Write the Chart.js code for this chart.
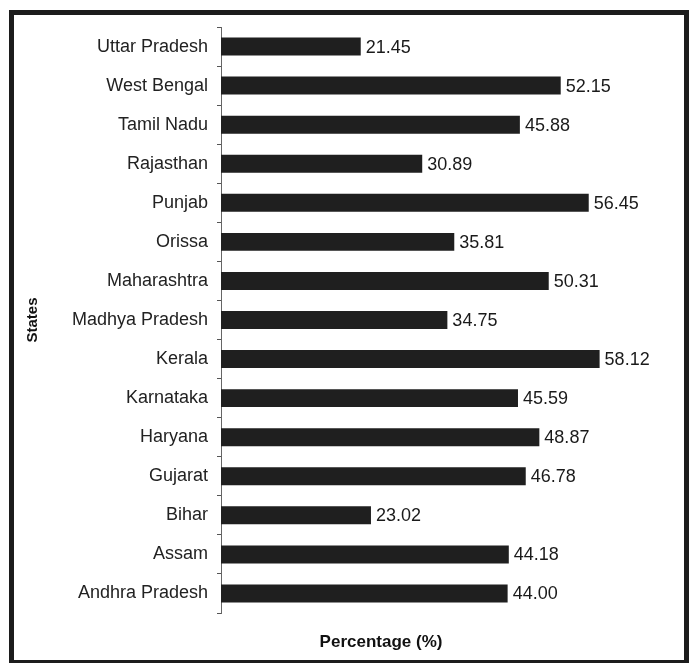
<!DOCTYPE html>
<html>
<head>
<meta charset="utf-8">
<script src="https://cdn.jsdelivr.net/npm/chart.js@4/dist/chart.umd.min.js"></script>
<style>
  html, body { margin: 0; padding: 0; background: #fff; }
  canvas { display: block; }
</style>
</head>
<body>
<canvas id="literacy" width="691" height="663"></canvas>
<script>
// states, top to bottom
const states = ['Uttar Pradesh', 'West Bengal', 'Tamil Nadu', 'Rajasthan', 'Punjab', 'Orissa',
  'Maharashtra', 'Madhya Pradesh', 'Kerala', 'Karnataka', 'Haryana', 'Gujarat', 'Bihar',
  'Assam', 'Andhra Pradesh'];
const percentages = [21.45, 52.15, 45.88, 30.89, 56.45, 35.81, 50.31, 34.75, 58.12, 45.59,
  48.87, 46.78, 23.02, 44.18, 44.00];
const xMax = 70;
const xTitle = 'Percentage (%)';

const FONT = "'Liberation Sans', Arial, sans-serif";

// value printed just past the end of each bar
const valueLabels = {
  id: 'valueLabels',
  afterDatasetsDraw(chart) {
    const ctx = chart.ctx;
    const meta = chart.getDatasetMeta(0);
    ctx.save();
    ctx.font = '18px ' + FONT;
    ctx.fillStyle = '#1a1a1a';
    ctx.textAlign = 'left';
    ctx.textBaseline = 'middle';
    meta.data.forEach((bar, i) => {
      ctx.fillText(percentages[i].toFixed(2), bar.x + 5, bar.y + 1);
    });
    ctx.restore();
  }
};

// x axis caption sits left of the plot centre, so it is placed by hand
const axisCaption = {
  id: 'axisCaption',
  afterDraw(chart) {
    const ctx = chart.ctx;
    const area = chart.chartArea;
    ctx.save();
    ctx.font = 'bold 17px ' + FONT;
    ctx.fillStyle = '#111';
    ctx.textAlign = 'center';
    ctx.textBaseline = 'middle';
    ctx.fillText(xTitle, area.left + 160, area.bottom + 29);
    ctx.restore();
  }
};

// heavy box round the whole figure
const frame = {
  id: 'frame',
  afterDraw(chart) {
    const ctx = chart.ctx;
    ctx.save();
    ctx.fillStyle = '#1c1c1c';
    ctx.fillRect(9, 10, 677, 5);    // top
    ctx.fillRect(9, 10, 5, 653);    // left
    ctx.fillRect(684, 10, 5, 653);  // right
    ctx.fillRect(9, 660, 680, 3);   // bottom
    ctx.restore();
  }
};

new Chart(document.getElementById('literacy').getContext('2d'), {
  type: 'bar',
  data: {
    labels: states,
    datasets: [{
      data: percentages,
      backgroundColor: '#1f1f1f',
      borderWidth: 0,
      barPercentage: 0.46,
      categoryPercentage: 1
    }]
  },
  options: {
    indexAxis: 'y',
    responsive: false,
    animation: false,
    layout: { padding: { left: 20, top: 27, right: 14, bottom: 3 } },
    plugins: {
      legend: { display: false },
      tooltip: { enabled: false }
    },
    scales: {
      x: {
        min: 0,
        max: xMax,
        ticks: { display: false },
        grid: { display: false },
        border: { display: false },
        afterFit(scale) { scale.height = 47; }
      },
      y: {
        ticks: {
          color: '#222',
          font: { family: FONT, size: 18 },
          padding: 9
        },
        grid: {
          drawOnChartArea: false,
          drawTicks: true,
          tickLength: 4,
          color: '#555',
          offset: true
        },
        border: { display: true, color: '#666', width: 1 },
        title: {
          display: true,
          text: 'States',
          color: '#111',
          font: { family: FONT, size: 15, weight: 'bold' },
          padding: { top: 4, bottom: 0 }
        },
        afterFit(scale) { scale.width = 201; }
      }
    }
  },
  plugins: [valueLabels, axisCaption, frame]
});
</script>
</body>
</html>
